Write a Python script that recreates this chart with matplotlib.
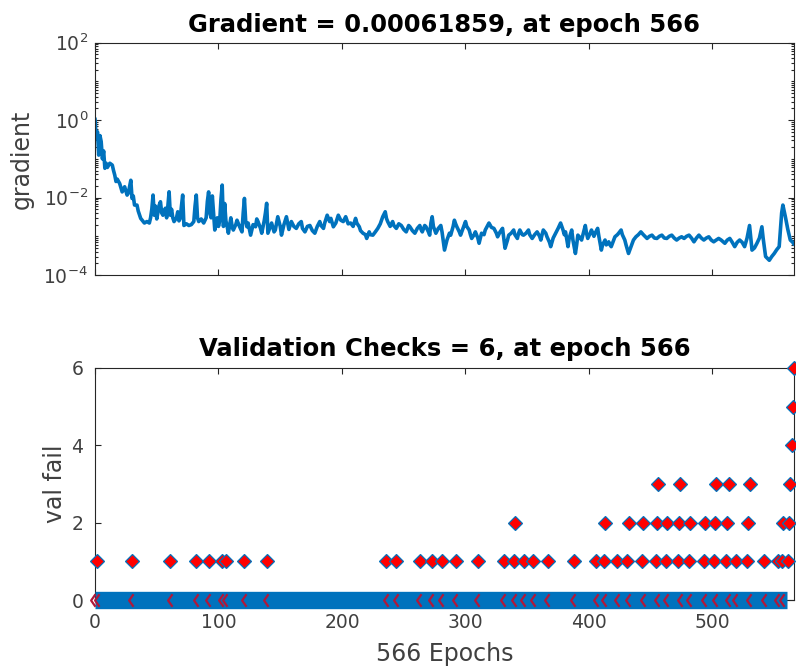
import numpy as np
import matplotlib
matplotlib.use("Agg")
import matplotlib.pyplot as plt
from matplotlib.path import Path
from matplotlib.ticker import FixedLocator, LogLocator, NullFormatter

# ---- training record -------------------------------------------------------
n_epochs = 566
best_gradient = 0.00061859
final_checks = 6

grad_epochs = [
    0, 1, 2, 3, 4, 5, 6, 7, 8, 9,
    10, 12, 14, 15, 16, 17, 18, 20, 21, 22,
    24, 25, 26, 27, 29, 30, 31, 32, 34, 35,
    37, 40, 42, 44, 45, 46, 47, 48, 49, 50,
    52, 53, 54, 55, 56, 57, 58, 59, 60, 61,
    62, 63, 64, 66, 67, 68, 69, 70, 71, 72,
    74, 76, 78, 80, 81, 82, 83, 84, 86, 88,
    90, 91, 92, 93, 94, 95, 96, 97, 99, 100,
    101, 102, 103, 104, 105, 106, 107, 108, 110, 111,
    112, 114, 115, 117, 119, 120, 121, 122, 123, 124,
    126, 128, 130, 131, 132, 134, 135, 137, 138, 139,
    140, 142, 143, 145, 146, 148, 150, 151, 153, 155,
    157, 159, 161, 163, 165, 167, 168, 170, 172, 174,
    176, 178, 180, 182, 183, 185, 186, 188, 190, 191,
    193, 195, 197, 199, 201, 203, 205, 207, 209, 211,
    212, 214, 215, 217, 219, 220, 222, 223, 225, 227,
    229, 231, 233, 235, 236, 237, 239, 241, 242, 244,
    246, 248, 250, 252, 254, 255, 257, 259, 261, 263,
    264, 265, 267, 268, 270, 271, 272, 273, 274, 276,
    278, 280, 281, 283, 284, 285, 287, 288, 290, 291,
    292, 293, 295, 296, 298, 300, 301, 303, 304, 305,
    307, 308, 310, 311, 312, 313, 315, 316, 318, 319,
    321, 323, 325, 326, 328, 330, 331, 332, 334, 335,
    337, 339, 340, 342, 343, 344, 346, 347, 349, 351,
    352, 354, 356, 358, 360, 361, 362, 363, 365, 366,
    368, 369, 371, 373, 375, 377, 378, 379, 380, 381,
    383, 384, 386, 387, 389, 390, 391, 393, 394, 396,
    397, 398, 399, 401, 402, 404, 405, 407, 408, 410,
    411, 413, 414, 416, 417, 418, 420, 421, 423, 424,
    426, 427, 429, 430, 432, 434, 436, 438, 440, 442,
    444, 447, 449, 451, 453, 455, 457, 459, 461, 463,
    465, 467, 469, 471, 473, 475, 477, 479, 481, 483,
    485, 487, 489, 491, 493, 495, 497, 499, 501, 503,
    505, 507, 510, 512, 514, 516, 518, 520, 522, 524,
    526, 528, 530, 531, 532, 534, 536, 538, 540, 541,
    543, 546, 548, 550, 552, 554, 555, 556, 557, 558,
    559, 561, 563, 565, 566,
]
grad_values = [
    1.1, 0.34, 0.5, 0.125, 0.4, 0.28, 0.1, 0.16, 0.057, 0.077,
    0.06, 0.077, 0.069, 0.05, 0.038, 0.026, 0.03, 0.023, 0.018, 0.014,
    0.019, 0.015, 0.0116, 0.013, 0.028, 0.0095, 0.011, 0.0064, 0.0064, 0.0045,
    0.0029, 0.0022, 0.0024, 0.0022, 0.003, 0.005, 0.0116, 0.0035, 0.006, 0.0028,
    0.0064, 0.0078, 0.004, 0.0035, 0.0045, 0.0053, 0.003, 0.006, 0.0141, 0.0035,
    0.005, 0.003, 0.0024, 0.003, 0.0043, 0.0025, 0.0029, 0.006, 0.0116, 0.0019,
    0.0021, 0.0019, 0.002, 0.0024, 0.006, 0.0116, 0.003, 0.0024, 0.0028, 0.0022,
    0.003, 0.008, 0.014, 0.004, 0.003, 0.011, 0.004, 0.00145, 0.003, 0.0018,
    0.0025, 0.009, 0.021, 0.0018, 0.007, 0.0025, 0.0018, 0.0012, 0.003, 0.0018,
    0.00145, 0.002, 0.0026, 0.0018, 0.0013, 0.004, 0.0095, 0.0025, 0.00176, 0.0022,
    0.00107, 0.002, 0.00176, 0.0028, 0.0024, 0.0016, 0.0012, 0.0025, 0.004, 0.0071,
    0.0012, 0.0018, 0.0022, 0.0013, 0.00145, 0.0032, 0.0018, 0.00107, 0.002, 0.0032,
    0.0015, 0.0024, 0.0018, 0.0016, 0.0021, 0.0024, 0.0016, 0.0013, 0.0018, 0.0019,
    0.0014, 0.0012, 0.0018, 0.0024, 0.0019, 0.0016, 0.0022, 0.0035, 0.0024, 0.0029,
    0.00176, 0.0022, 0.0035, 0.0026, 0.0024, 0.0032, 0.0021, 0.0022, 0.0018, 0.0029,
    0.0022, 0.00176, 0.0014, 0.0012, 0.0011, 0.00088, 0.0013, 0.0011, 0.00107, 0.0013,
    0.0016, 0.0021, 0.0032, 0.0043, 0.0029, 0.0024, 0.0018, 0.0024, 0.0019, 0.0016,
    0.0021, 0.0019, 0.0015, 0.0013, 0.0019, 0.00176, 0.0014, 0.0012, 0.0016, 0.0019,
    0.0015, 0.0013, 0.0019, 0.00176, 0.0013, 0.00107, 0.0022, 0.0032, 0.0018, 0.0012,
    0.0016, 0.0019, 0.0013, 0.00044, 0.0006, 0.0008, 0.0012, 0.00107, 0.0018, 0.0026,
    0.0021, 0.00176, 0.0013, 0.00107, 0.0016, 0.0024, 0.0018, 0.00145, 0.0011, 0.00088,
    0.0011, 0.0013, 0.0009, 0.00066, 0.0009, 0.0012, 0.0011, 0.00145, 0.0019, 0.0022,
    0.0017, 0.0016, 0.0012, 0.00097, 0.0013, 0.0016, 0.0009, 0.00049, 0.0008, 0.00107,
    0.0012, 0.00145, 0.0011, 0.00088, 0.0012, 0.00145, 0.0011, 0.00107, 0.0012, 0.00145,
    0.0011, 0.00088, 0.0011, 0.0013, 0.001, 0.0008, 0.0011, 0.00145, 0.0012, 0.00097,
    0.0007, 0.00054, 0.0009, 0.0012, 0.0016, 0.0022, 0.0018, 0.00145, 0.0011, 0.0013,
    0.00054, 0.0009, 0.00145, 0.0008, 0.00036, 0.0006, 0.00107, 0.0009, 0.0008, 0.0014,
    0.0019, 0.0012, 0.00088, 0.0012, 0.00145, 0.001, 0.0012, 0.0016, 0.001, 0.00044,
    0.0006, 0.0008, 0.0006, 0.00072, 0.0006, 0.00054, 0.0008, 0.00097, 0.0011, 0.0012,
    0.00145, 0.0011, 0.0008, 0.0006, 0.00036, 0.00054, 0.0008, 0.00097, 0.0011, 0.0013,
    0.0011, 0.00088, 0.001, 0.00107, 0.0009, 0.00088, 0.001, 0.00107, 0.0009, 0.00088,
    0.001, 0.00107, 0.0009, 0.0008, 0.0009, 0.00097, 0.00088, 0.001, 0.00107, 0.0009,
    0.00072, 0.0009, 0.00107, 0.0009, 0.0008, 0.0009, 0.00097, 0.0008, 0.00072, 0.0008,
    0.00088, 0.0008, 0.00066, 0.0008, 0.00088, 0.0007, 0.00054, 0.0007, 0.0008, 0.0007,
    0.00054, 0.0009, 0.0019, 0.0009, 0.00044, 0.0005, 0.00066, 0.0009, 0.00176, 0.0009,
    0.0003, 0.00024, 0.0003, 0.00036, 0.00045, 0.00054, 0.0015, 0.004, 0.0064, 0.0045,
    0.0032, 0.0015, 0.0008, 0.0007, 0.00061859,
]

# epochs at which the validation error failed to improve, and the running count
fail_epochs = [
    2, 30, 61, 82, 92, 103, 106, 121, 139, 236, 244, 263, 273, 281, 292, 310, 331,
    339, 340, 347, 355, 367, 388, 406, 412, 413, 423, 431, 432, 443, 444,
    454, 455, 456, 462, 463, 472, 473, 474, 481, 482, 493, 494,
    501, 502, 503, 511, 512, 513, 519, 528, 529, 530, 542, 553, 556, 557,
    561, 562, 563, 564, 565, 566,
]
fail_counts = [
    1, 1, 1, 1, 1, 1, 1, 1, 1, 1, 1, 1, 1, 1, 1, 1, 1,
    1, 2, 1, 1, 1, 1, 1, 1, 2, 1, 1, 2, 1, 2,
    1, 2, 3, 1, 2, 1, 2, 3, 1, 2, 1, 2,
    1, 2, 3, 1, 2, 3, 1, 1, 2, 3, 1, 1, 1, 2,
    1, 2, 3, 4, 5, 6,
]

epoch_ticks = [0, 100, 200, 300, 400, 500]
grad_ticks = [1e-4, 1e-2, 1e0, 1e2]
check_ticks = [0, 2, 4, 6]

# ---- style ------------------------------------------------------------------
BLUE = '#0072BD'
AXIS = '#262626'
LABEL = '#404040'
plt.rcParams['font.family'] = ['DejaVu Sans']
plt.rcParams['mathtext.fontset'] = 'dejavusans'

fig = plt.figure(figsize=(7.96, 6.68), dpi=100)
W, H = 796.0, 668.0
ax1 = fig.add_axes([95 / W, 1 - 275 / H, 699 / W, 232.3 / H])
ax2 = fig.add_axes([95 / W, 1 - 600 / H, 699 / W, 232.0 / H])


def style_axes(ax, ypad):
    for s in ax.spines.values():
        s.set_color(AXIS)
        s.set_linewidth(0.8)
    ax.tick_params(which='both', direction='in', top=True, right=True,
                   color=AXIS, width=0.8, labelcolor=LABEL, labelsize=13.5)
    ax.tick_params(which='major', length=4)
    ax.tick_params(which='minor', length=2)
    ax.tick_params(axis='y', pad=ypad)
    ax.tick_params(axis='x', pad=9)
    ax.set_xlim(0, n_epochs)
    ax.xaxis.set_major_locator(FixedLocator(epoch_ticks))


# ---- gradient panel -------------------------------------------------------------
ax1.plot(grad_epochs, grad_values, color=BLUE, lw=2.6,
         solid_joinstyle='round', solid_capstyle='round')
ax1.set_yscale('log')
ax1.set_ylim(1e-4, 1e2)
style_axes(ax1, ypad=5)
ax1.yaxis.set_major_locator(FixedLocator(grad_ticks))
ax1.yaxis.set_minor_locator(LogLocator(base=10, subs=np.arange(1, 10), numticks=100))
ax1.yaxis.set_minor_formatter(NullFormatter())
ax1.set_xticklabels([])
ax1.set_ylabel('gradient', fontsize=17, color=LABEL)
ax1.yaxis.set_label_coords(-0.088, 0.5)
ax1.text(0.5, 1.047, f'Gradient = {best_gradient:.8f}, at epoch {n_epochs}',
         transform=ax1.transAxes, ha='center', va='baseline',
         fontsize=17.5, fontweight='bold', color='black')

# ---- validation checks panel -------------------------------------------------
epochs = np.arange(n_epochs + 1)
val_fail = np.zeros(n_epochs + 1)
val_fail[fail_epochs] = fail_counts

zero = val_fail == 0
failed = ~zero
restart = zero & np.concatenate([[True], failed[:-1]])

ax2.plot(epochs[zero], val_fail[zero], color=BLUE, lw=12.5,
         solid_capstyle='butt', clip_on=False, zorder=3)
chevron = Path([(0.0, 1.0), (-0.7, 0.0), (0.0, -1.0)],
               [Path.MOVETO, Path.LINETO, Path.LINETO])
ax2.plot(epochs[restart], val_fail[restart], ls='none', marker=chevron, ms=9,
         mfc='none', mec='#b0183a', mew=1.6, clip_on=False, zorder=4)
ax2.plot(epochs[failed], val_fail[failed], ls='none', marker='D', ms=7,
         mfc='red', mec=BLUE, mew=0.9, clip_on=False, zorder=5)

ax2.set_ylim(0, 6)
style_axes(ax2, ypad=8.5)
ax2.yaxis.set_major_locator(FixedLocator(check_ticks))
ax2.set_ylabel('val fail', fontsize=17, color=LABEL)
ax2.yaxis.set_label_coords(-0.040, 0.5)
ax2.set_xlabel(f'{n_epochs} Epochs', fontsize=17, color=LABEL)
ax2.xaxis.set_label_coords(0.5, -0.181)
ax2.xaxis.label.set_verticalalignment('top')
ax2.text(0.5, 1.05, f'Validation Checks = {final_checks}, at epoch {n_epochs}',
         transform=ax2.transAxes, ha='center', va='baseline',
         fontsize=17.5, fontweight='bold', color='black')

fig.savefig('out.png', dpi=100)
